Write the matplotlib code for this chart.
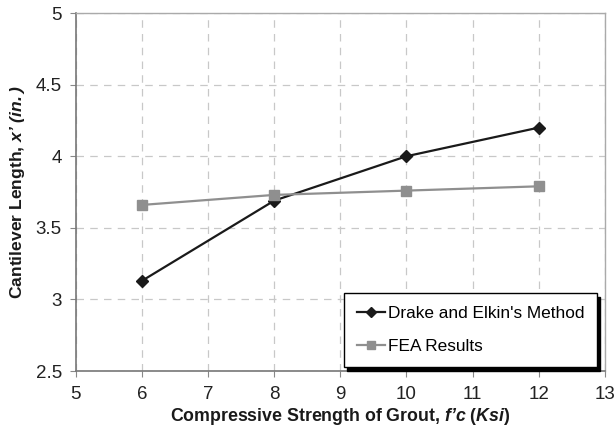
import matplotlib
matplotlib.use("Agg")
import matplotlib.pyplot as plt

# ===== data =====
strength = [6, 8, 10, 12]
drake_elkin = [3.13, 3.69, 4.0, 4.2]
fea_results = [3.66, 3.73, 3.76, 3.79]
x_ticks = [5, 6, 7, 8, 9, 10, 11, 12, 13]
y_ticks = [2.5, 3, 3.5, 4, 4.5, 5]
y_tick_labels = ["2.5", "3", "3.5", "4", "4.5", "5"]

plt.rcParams["font.family"] = ["Liberation Sans", "DejaVu Sans"]
plt.rcParams["mathtext.fontset"] = "custom"
plt.rcParams["mathtext.rm"] = "Liberation Sans"
plt.rcParams["mathtext.it"] = "Liberation Sans:italic"
plt.rcParams["mathtext.bf"] = "Liberation Sans:bold"
plt.rcParams["mathtext.bfit"] = "Liberation Sans:italic:bold"

fig = plt.figure(figsize=(6.16, 4.34), dpi=100)
ax = fig.add_axes([0.123, 0.145, 0.859, 0.825])

ax.plot(strength, drake_elkin, color="#1a1a1a", lw=1.6, marker="D", ms=6,
        label="Drake and Elkin's Method", zorder=3)
ax.plot(strength, fea_results, color="#8f8f8f", lw=1.6, marker="s", ms=7,
        label="FEA Results", zorder=3)

ax.set_xlim(5, 13)
ax.set_ylim(2.5, 5)
ax.set_xticks(x_ticks)
ax.set_yticks(y_ticks)
ax.set_yticklabels(y_tick_labels)
ax.tick_params(labelsize=13.5, labelcolor="#222222", length=4, direction="out",
               color="#888888")
ax.tick_params(axis="x", pad=7)
ax.tick_params(axis="y", pad=6)

ax.grid(True, color="#c8c8c8", ls=(0, (6, 5)), lw=0.9)
ax.set_axisbelow(True)

for side in ["left", "bottom"]:
    ax.spines[side].set_color("#777777")
    ax.spines[side].set_linewidth(1.2)
for side in ["top", "right"]:
    ax.spines[side].set_color("#aaaaaa")
    ax.spines[side].set_linewidth(1.0)

ax.set_xlabel(r"Compressive Strength of Grout, $\mathbfit{f’c}$ $\mathbf{(}\mathbfit{Ksi}\mathbf{)}$",
              fontsize=12.8, fontweight="bold", color="#1a1a1a", labelpad=2)
ax.set_ylabel(r"Cantilever Length, $\mathbfit{x’\ (in.)}$",
              fontsize=12.6, fontweight="bold", color="#1a1a1a", labelpad=6)

leg = ax.legend(loc="lower right", bbox_to_anchor=(0.985, 0.011), borderaxespad=0,
                fontsize=12.4, frameon=True, fancybox=False,
                shadow={"color": "black", "alpha": 1, "ox": 2.5, "oy": -2.5},
                handlelength=1.65, handletextpad=0.15, borderpad=0.75, labelspacing=1.05,
                markerscale=0.8)
leg.get_frame().set_edgecolor("black")
leg.get_frame().set_linewidth(1.0)

fig.savefig("out.png", dpi=100)
